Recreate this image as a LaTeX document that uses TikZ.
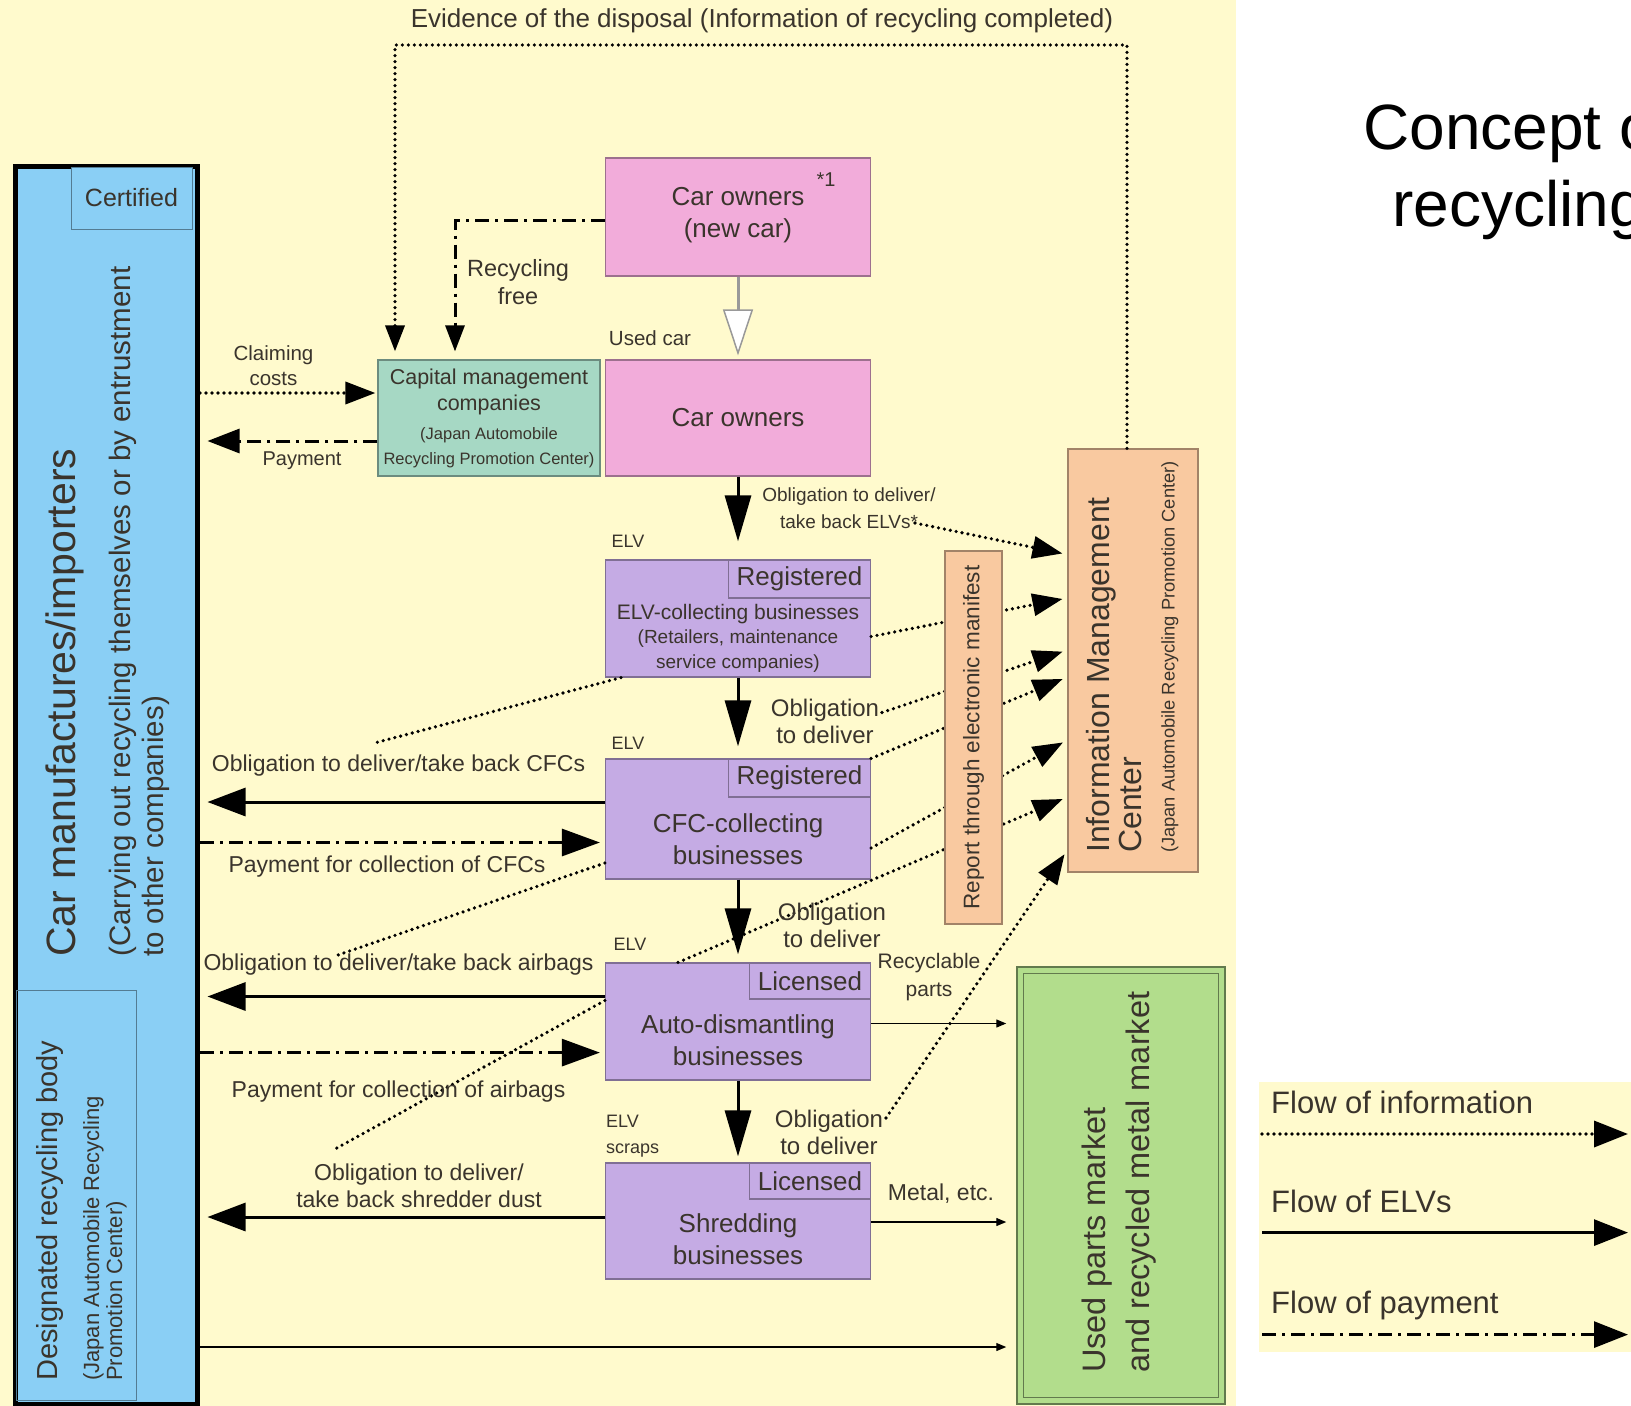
\documentclass[tikz,border=0pt]{standalone}
\usepackage{fontspec}
\setmainfont{Liberation Sans}
\usepackage{tikz}
\usetikzlibrary{arrows.meta, positioning}

\definecolor{paper}{RGB}{255,250,205}
\definecolor{makerblue}{RGB}{138,207,245}
\definecolor{ownerpink}{RGB}{242,172,218}
\definecolor{fundteal}{RGB}{166,216,196}
\definecolor{bizpurple}{RGB}{197,171,228}
\definecolor{infoorange}{RGB}{249,201,160}
\definecolor{marketgreen}{RGB}{178,221,140}
\definecolor{darktext}{RGB}{58,52,44}

\newcommand{\fsz}[2]{\fontsize{#1}{#2}\selectfont}

\tikzset{
  every node/.style={text=darktext},
  bizbox/.style={draw=#1!65!black, fill=#1, line width=1.2pt, inner sep=0pt},
  tabbox/.style={draw=bizpurple!65!black, fill=bizpurple, line width=1.2pt, anchor=north east, inner sep=0pt, font=\fsz{26}{30}},
  boxtext/.style={font=\fsz{26}{32}, align=center, inner sep=0pt},
  flowtext/.style={font=\fsz{23}{28}, align=center, inner sep=0pt},
  elvtag/.style={font=\fsz{18}{26}, align=left, inner sep=0pt},
  infoline/.style={line width=3.6pt, dash pattern=on 0pt off 6pt, line cap=round},
  infoflow/.style={infoline, -{Triangle[length=30pt, width=22pt]}},
  payflow/.style={line width=3pt, dash pattern=on 14pt off 6pt on 3pt off 6pt, -{Triangle[length=38pt, width=27pt]}},
  elvflow/.style={line width=3pt, -{Triangle[length=38pt, width=28pt]}},
  elvdown/.style={elvflow, -{Triangle[length=46pt, width=26pt]}},
  marketflow/.style={line width=1.3pt, -{Triangle[length=10pt, width=8pt]}},
}

\begin{document}
\begin{tikzpicture}[x=1pt, y=-1pt]
  % Page and backgrounds
  \useasboundingbox (0,0) rectangle (1631,1406);
  \clip (0,0) rectangle (1631,1406);
  \fill[white] (0,0) rectangle (1631,1406);
  \fill[paper] (0,0) rectangle (1236,1406);
  \fill[paper] (1259,1082) rectangle (1631,1352);

  % Slide title, cut by the right edge
  \node[anchor=base west, inner sep=0pt, text=black, font=\fsz{64}{72}] (titleA) at (1363,149) {Concept of};
  \node[anchor=base west, inner sep=0pt, text=black, font=\fsz{64}{72}] (titleB) at (1392,226) {recycling};

  % Car manufactures/importers
  \node[draw=black, line width=5pt, fill=makerblue, anchor=north west, minimum width=182, minimum height=1238] (maker) at (13,164) {};
  \node[draw=makerblue!60!black, line width=1pt, fill=makerblue, anchor=north east, minimum width=121, minimum height=62, inner sep=0pt, font=\fsz{25}{30}] (certified) at (192.5,166.5) {Certified};
  \node[draw=makerblue!60!black, line width=1pt, anchor=north west, minimum width=120, minimum height=410, inner sep=0pt] (designated) at (15.5,990) {};
  \node[rotate=90, anchor=west, inner sep=0pt, font=\fsz{41}{46}] (makername) at (65,957) {Car manufactures/importers};
  \node[rotate=90, anchor=west, align=left, inner sep=0pt, font=\fsz{29.5}{33}] (makernote) at (139.5,957) {(Carrying out recycling themselves or by entrustment\\to other companies)};
  \node[rotate=90, anchor=west, inner sep=0pt, font=\fsz{29}{33}] (designame) at (50,1381) {Designated recycling body};
  \node[rotate=90, anchor=west, align=left, inner sep=0pt, font=\fsz{22}{23}] (desigorg) at (105,1381) {(Japan Automobile Recycling\\Promotion Center)};

  % Car owners
  \node[bizbox=ownerpink, minimum width=265, minimum height=118] (newcar) at (738,217) {};
  \node[boxtext] (newcarname) at (738,215) {Car owners\\(new car)};
  \node[font=\fsz{20}{24}, inner sep=0pt] (note) at (826,180) {*1};
  \node[bizbox=ownerpink, minimum width=265, minimum height=116, font=\fsz{26}{32}] (owners) at (738,418) {Car owners};

  % Capital management companies
  \node[bizbox=fundteal, minimum width=222, minimum height=116] (capital) at (489,418) {};
  \node[font=\fsz{21.5}{26}, align=center, inner sep=0pt] (capitalname) at (489,391.6) {Capital management\\companies};
  \node[font=\fsz{16.5}{25}, align=center, inner sep=0pt] (capitalorg) at (489,447.5) {(Japan Automobile\\Recycling Promotion Center)};

  % Businesses along the ELV chain
  \node[bizbox=bizpurple, minimum width=265, minimum height=117] (elvcol) at (738,618.5) {};
  \node[tabbox, minimum width=142, minimum height=38] (elvreg) at (elvcol.north east) {Registered};
  \node[font=\fsz{21}{25}, inner sep=0pt] (elvcolname) at (738,614) {ELV-collecting businesses};
  \node[font=\fsz{19}{25}, align=center, inner sep=0pt] (elvcolnote) at (738,651.5) {(Retailers, maintenance\\service companies)};

  \node[bizbox=bizpurple, minimum width=265, minimum height=120] (cfc) at (738,819) {};
  \node[tabbox, minimum width=142, minimum height=38] (cfcreg) at (cfc.north east) {Registered};
  \node[boxtext] (cfcname) at (738,839) {CFC-collecting\\businesses};

  \node[bizbox=bizpurple, minimum width=265, minimum height=117] (dismantle) at (738,1021.5) {};
  \node[tabbox, minimum width=121, minimum height=36] (dismantlelic) at (dismantle.north east) {Licensed};
  \node[boxtext] (dismantlename) at (738,1040) {Auto-dismantling\\businesses};

  \node[bizbox=bizpurple, minimum width=265, minimum height=116] (shred) at (738,1221) {};
  \node[tabbox, minimum width=121, minimum height=36] (shredlic) at (shred.north east) {Licensed};
  \node[boxtext] (shredname) at (738,1239) {Shredding\\businesses};

  % Information Management Center
  \node[bizbox=infoorange, minimum width=130, minimum height=423] (info) at (1133,660.5) {};
  \node[rotate=90, anchor=west, align=left, inner sep=0pt, font=\fsz{32}{32.5}] (infoname) at (1114,853) {Information Management\\Center};
  \node[rotate=90, anchor=west, inner sep=0pt, font=\fsz{18.3}{22}] (infoorg) at (1170,853) {(Japan Automobile Recycling Promotion Center)};

  % Markets
  \node[draw=marketgreen!55!black, line width=1.5pt, fill=marketgreen, minimum width=208, minimum height=437] (market) at (1121,1185.5) {};
  \draw[marketgreen!55!black, line width=1pt] ([shift={(7,7)}]market.north west) rectangle ([shift={(-7,-7)}]market.south east);
  \node[rotate=90, anchor=west, align=left, inner sep=0pt, font=\fsz{32.5}{44}] (marketname) at (1119,1373) {Used parts market\\and recycled metal market};

  % Rows of the horizontal flows
  \coordinate (claimrow) at (0,393);
  \coordinate (payrow) at (0,441);
  \coordinate (cfcrow) at (0,802);
  \coordinate (cfcpayrow) at (0,842.5);
  \coordinate (bagrow) at (0,996.5);
  \coordinate (bagpayrow) at (0,1052.6);
  \coordinate (dustrow) at (0,1217);
  \coordinate (partsrow) at (0,1023.5);
  \coordinate (metalrow) at (0,1222);
  \coordinate (bottomrow) at (0,1347);

  % Evidence of the disposal and recycling fee
  \coordinate (evleft) at (395,45);
  \coordinate (evright) at (1127,45);
  \coordinate (feecorner) at (455,220.5);
  \draw[infoflow, -{Triangle[length=26pt, width=19pt]}, shorten >=8pt] (info.north -| evright) -- (evright) -- (evleft) -- (evleft |- capital.north);
  \draw[payflow, -{Triangle[length=26pt, width=19pt]}, shorten >=8pt] (newcar.west |- feecorner) -- (feecorner) -- (feecorner |- capital.north);
  \draw[line width=3pt, draw=black!40, -{Triangle[length=46pt, width=30pt, fill=white, line width=1.5pt]}, shorten >=4pt] (newcar.south) -- (owners.north);

  % Costs and payments
  \draw[infoflow, shorten >=2pt] (maker.east |- claimrow) -- (capital.west |- claimrow);
  \draw[payflow, -{Triangle[length=32pt, width=24pt]}, shorten >=7.5pt] (capital.west |- payrow) -- (maker.east |- payrow);
  \draw[payflow, shorten >=5pt] (maker.east |- cfcpayrow) -- (cfc.west |- cfcpayrow);
  \draw[payflow, shorten >=5pt] (maker.east |- bagpayrow) -- (dismantle.west |- bagpayrow);

  % Flow of ELVs
  \draw[elvdown, shorten >=18pt] (owners) -- (elvcol);
  \draw[elvdown, shorten >=12pt] (elvcol) -- (cfc);
  \draw[elvdown, shorten >=8pt] (cfc) -- (dismantle);
  \draw[elvdown, shorten >=6pt] (dismantle) -- (shred);
  \draw[elvflow, shorten >=7.5pt] (cfc.west |- cfcrow) -- (maker.east |- cfcrow);
  \draw[elvflow, shorten >=7.5pt] (dismantle.west |- bagrow) -- (maker.east |- bagrow);
  \draw[elvflow, shorten >=7.5pt] (shred.west |- dustrow) -- (maker.east |- dustrow);
  \draw[marketflow, shorten >=10pt] (dismantle.east |- partsrow) -- (market.west |- partsrow);
  \draw[marketflow, shorten >=10pt] (shred.east |- metalrow) -- (market.west |- metalrow);
  \draw[marketflow, shorten >=10pt] (maker.east |- bottomrow) -- (market.west |- bottomrow);

  % Reports to the information center
  \coordinate (elvtalkend) at (915,523);
  \coordinate (obligAend) at (882,712.5);
  \coordinate (obligCend) at (886,1118);
  \coordinate (cfcinfo) at (374.5,743);
  \coordinate (baginfo) at (338,955);
  \coordinate (dustinfo) at (335,1149);
  \draw[infoflow, shorten >=5pt] (elvtalkend) -- ([shift={(0,-106)}]info.west);
  \draw[infoflow, shorten >=5pt] ([shift={(0,18)}]elvcol.east) -- ([shift={(0,-62.5)}]info.west);
  \draw[infoflow, shorten >=5pt] (obligAend) -- ([shift={(0,-10.5)}]info.west);
  \draw[infoflow, shorten >=5pt] (cfc.north east) -- ([shift={(0,16.5)}]info.west);
  \draw[infoflow, shorten >=5pt] ([shift={(0,29)}]cfc.east) -- ([shift={(0,79.5)}]info.west);
  \draw[infoflow, shorten >=5pt] ([shift={(-60,0)}]dismantle.north) -- ([shift={(0,136.5)}]info.west);
  \draw[infoflow, shorten >=5pt] (obligCend) -- ([shift={(0,189.5)}]info.west);
  \draw[infoline] ([shift={(-117,0)}]elvcol.south) -- (cfcinfo);
  \draw[infoline] ([shift={(0,44)}]cfc.west) -- (baginfo);
  \draw[infoline] ([shift={(0,-21)}]dismantle.west) -- (dustinfo);

  % Electronic manifest
  \node[bizbox=infoorange, minimum width=57, minimum height=373] (report) at (973.5,737.5) {};
  \node[rotate=90, inner sep=0pt, font=\fsz{22.5}{26}] (reporttext) at (report.center) {Report through electronic manifest};

  % Flow labels
  \node[font=\fsz{26}{30}, inner sep=0pt] (evlabel) at (762,21) {Evidence of the disposal (Information of recycling completed)};
  \node[flowtext, font=\fsz{23.5}{28.5}] (feelabel) at (518,282) {Recycling\\free};
  \node[font=\fsz{20.5}{25}, inner sep=0pt] (usedcar) at (650,338) {Used car};
  \node[font=\fsz{20.5}{25}, align=center, inner sep=0pt] (claimlabel) at (273.5,366) {Claiming\\costs};
  \node[font=\fsz{20}{24}, inner sep=0pt] (paylabel) at (302,461) {Payment};
  \node[font=\fsz{19}{27}, align=center, inner sep=0pt] (elvtalk) at (849,508.5) {Obligation to deliver/\\take back ELVs*};
  \node[elvtag] (elvtagA) at (628,541) {ELV};
  \node[elvtag] (elvtagB) at (628,743) {ELV};
  \node[elvtag] (elvtagC) at (630,944.5) {ELV};
  \node[elvtag, anchor=west] (elvtagD) at (606,1136) {ELV\\scraps};
  \node[flowtext, font=\fsz{24}{27}] (obligA) at (825,721) {Obligation\\to deliver};
  \node[flowtext, font=\fsz{24}{27}] (obligB) at (832,925) {Obligation\\to deliver};
  \node[flowtext, font=\fsz{24}{27}] (obligC) at (829,1132) {Obligation\\to deliver};
  \node[flowtext] (cfcduty) at (398.5,765.5) {Obligation to deliver/take back CFCs};
  \node[flowtext] (cfcpay) at (387,866.5) {Payment for collection of CFCs};
  \node[flowtext] (bagduty) at (398.5,965) {Obligation to deliver/take back airbags};
  \node[flowtext] (bagpay) at (398.5,1092) {Payment for collection of airbags};
  \node[flowtext, font=\fsz{23}{27.5}] (dustduty) at (419,1186) {Obligation to deliver/\\take back shredder dust};
  \node[flowtext, font=\fsz{21}{28}] (partslabel) at (929,977) {Recyclable\\parts};
  \node[flowtext] (metallabel) at (941,1194) {Metal, etc.};

  % Legend
  \node[anchor=west, inner sep=0pt, font=\fsz{31}{36}] (legendinfo) at (1271,1102.6) {Flow of information};
  \node[anchor=west, inner sep=0pt, font=\fsz{31}{36}] (legendelv) at (1271,1201.5) {Flow of ELVs};
  \node[anchor=west, inner sep=0pt, font=\fsz{31}{36}] (legendpay) at (1271,1305.5) {Flow of payment};
  \coordinate (lgAstart) at (1262,1134);
  \coordinate (lgAend) at (1628,1134);
  \coordinate (lgBstart) at (1262,1232.6);
  \coordinate (lgBend) at (1628,1232.6);
  \coordinate (lgCstart) at (1262,1334.6);
  \coordinate (lgCend) at (1628,1334.6);
  \draw[infoflow, -{Triangle[length=34pt, width=26pt]}] (lgAstart) -- (lgAend);
  \draw[elvflow, -{Triangle[length=34pt, width=26pt]}] (lgBstart) -- (lgBend);
  \draw[payflow, -{Triangle[length=34pt, width=26pt]}] (lgCstart) -- (lgCend);
\end{tikzpicture}
\end{document}
